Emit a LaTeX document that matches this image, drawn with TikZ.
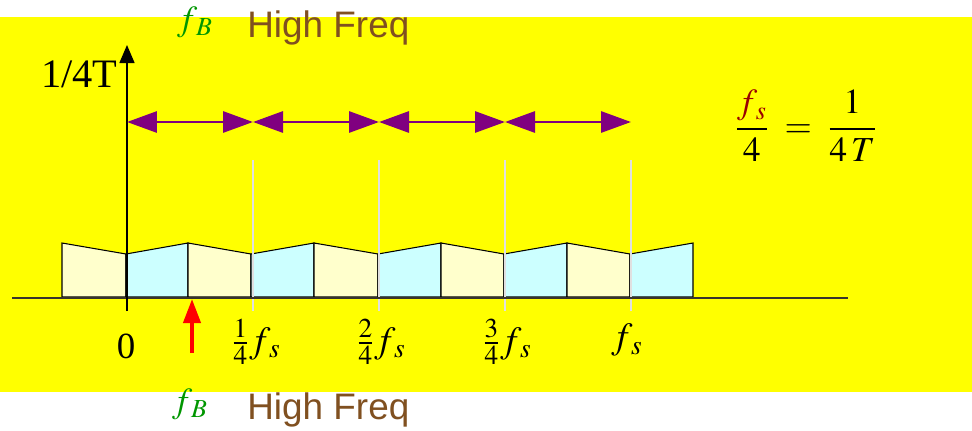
\documentclass[tikz,border=0pt]{standalone}
\usepackage{mathptmx}
\usepackage{fontspec}
\setmainfont{Liberation Serif}
\newfontfamily\hfsans{Liberation Sans}
\usetikzlibrary{arrows.meta}
\definecolor{bgyellow}{RGB}{255,255,0}
\definecolor{cream}{RGB}{255,255,204}
\definecolor{paleblue}{RGB}{204,255,255}
\definecolor{bandarrow}{RGB}{128,0,128}
\definecolor{freqbrown}{RGB}{128,80,32}
\definecolor{fbgreen}{RGB}{0,150,0}
\definecolor{fsred}{RGB}{153,0,0}
\tikzset{
    bandcell/.style={draw=black, line width=0.6pt, line join=miter},
    bandspan/.style={bandarrow, line width=1.7pt,
        {Triangle[length=0.6cm,width=0.42cm]}-{Triangle[length=0.6cm,width=0.42cm]}},
    ticklbl/.style={font=\fontsize{21}{24}\selectfont, inner sep=0pt},
    hftext/.style={font=\hfsans\fontsize{21}{24}\selectfont, text=freqbrown, inner sep=0pt},
    fbtext/.style={font=\fontsize{20}{22}\selectfont, text=fbgreen, inner sep=0pt}
}
\begin{document}
\begin{tikzpicture}[x=0.02cm, y=-0.02cm]
    \useasboundingbox (0,0) rectangle (972,430);
    \fill[bgyellow] (0,17) rectangle (972,392);
    % spectrum blocks
    \foreach \xa/\xb/\ya/\yb/\clr in {62/126/243/254/cream, 126/188/254/243/paleblue,
        188/251/243/254/cream, 251/314/254/243/paleblue, 314/378/243/254/cream,
        378/441/254/243/paleblue, 441/504/243/254/cream, 504/567/254/243/paleblue,
        567/630/243/254/cream, 630/693/254/243/paleblue}
        \filldraw[bandcell, fill=\clr] (\xa,297) -- (\xa,\ya) -- (\xb,\yb) -- (\xb,297) -- cycle;
    % grid lines at multiples of fs/4
    \foreach \x in {253,379,505,631}
        \draw[black!12, line width=0.6pt] (\x,160) -- (\x,311);
    % axes
    \draw[line width=0.8pt, black!80!olive] (12,298) -- (848,298);
    \coordinate (yfoot) at (127,311);
    \coordinate (ytop) at (127,45);
    \draw[line width=0.8pt, -{Triangle[length=0.36cm,width=0.3cm]}] (yfoot) -- (ytop);
    \node[font=\fontsize{23}{26}\selectfont, anchor=east, inner sep=0pt] (ylbl) at (118,74) {1/4T};
    % arrows between band edges
    \foreach \x [count=\i from 0] in {127,253,379,505,631}
        \coordinate (b\i) at (\x,122);
    \foreach \i [evaluate=\i as \j using int(\i+1)] in {0,1,2,3}
        \draw[bandspan] (b\i) -- (b\j);
    % tick labels
    \node[ticklbl] (z0) at (126,346) {0};
    \node[ticklbl] (q1) at (256,342) {$\frac{1}{4}f_{\,s}$};
    \node[ticklbl] (q2) at (381,342) {$\frac{2}{4}f_{\,s}$};
    \node[ticklbl] (q3) at (507,342) {$\frac{3}{4}f_{\,s}$};
    \node[ticklbl] (q4) at (627,340) {$f_{\,s}$};
    % band edge frequency
    \coordinate (fbfoot) at (192,353);
    \coordinate (fbtip) at (192,299);
    \draw[red, line width=2.3pt, -{Triangle[length=0.48cm,width=0.34cm]}] (fbfoot) -- (fbtip);
    \node[fbtext] (fbtop) at (195,22) {$f_{\,B}$};
    \node[hftext, anchor=west] (hftop) at (247,28) {High Freq};
    \node[fbtext] (fbbot) at (190,404) {$f_{\,B}$};
    \node[hftext, anchor=west] (hfbot) at (247,410) {High Freq};
    % relation
    \node[font=\fontsize{20}{22}\selectfont, inner sep=0pt] (rel) at (806,126)
        {$\displaystyle \frac{\textcolor{fsred}{f_{\,s}}}{4} \;=\; \frac{1}{4\,T}$};
\end{tikzpicture}
\end{document}
